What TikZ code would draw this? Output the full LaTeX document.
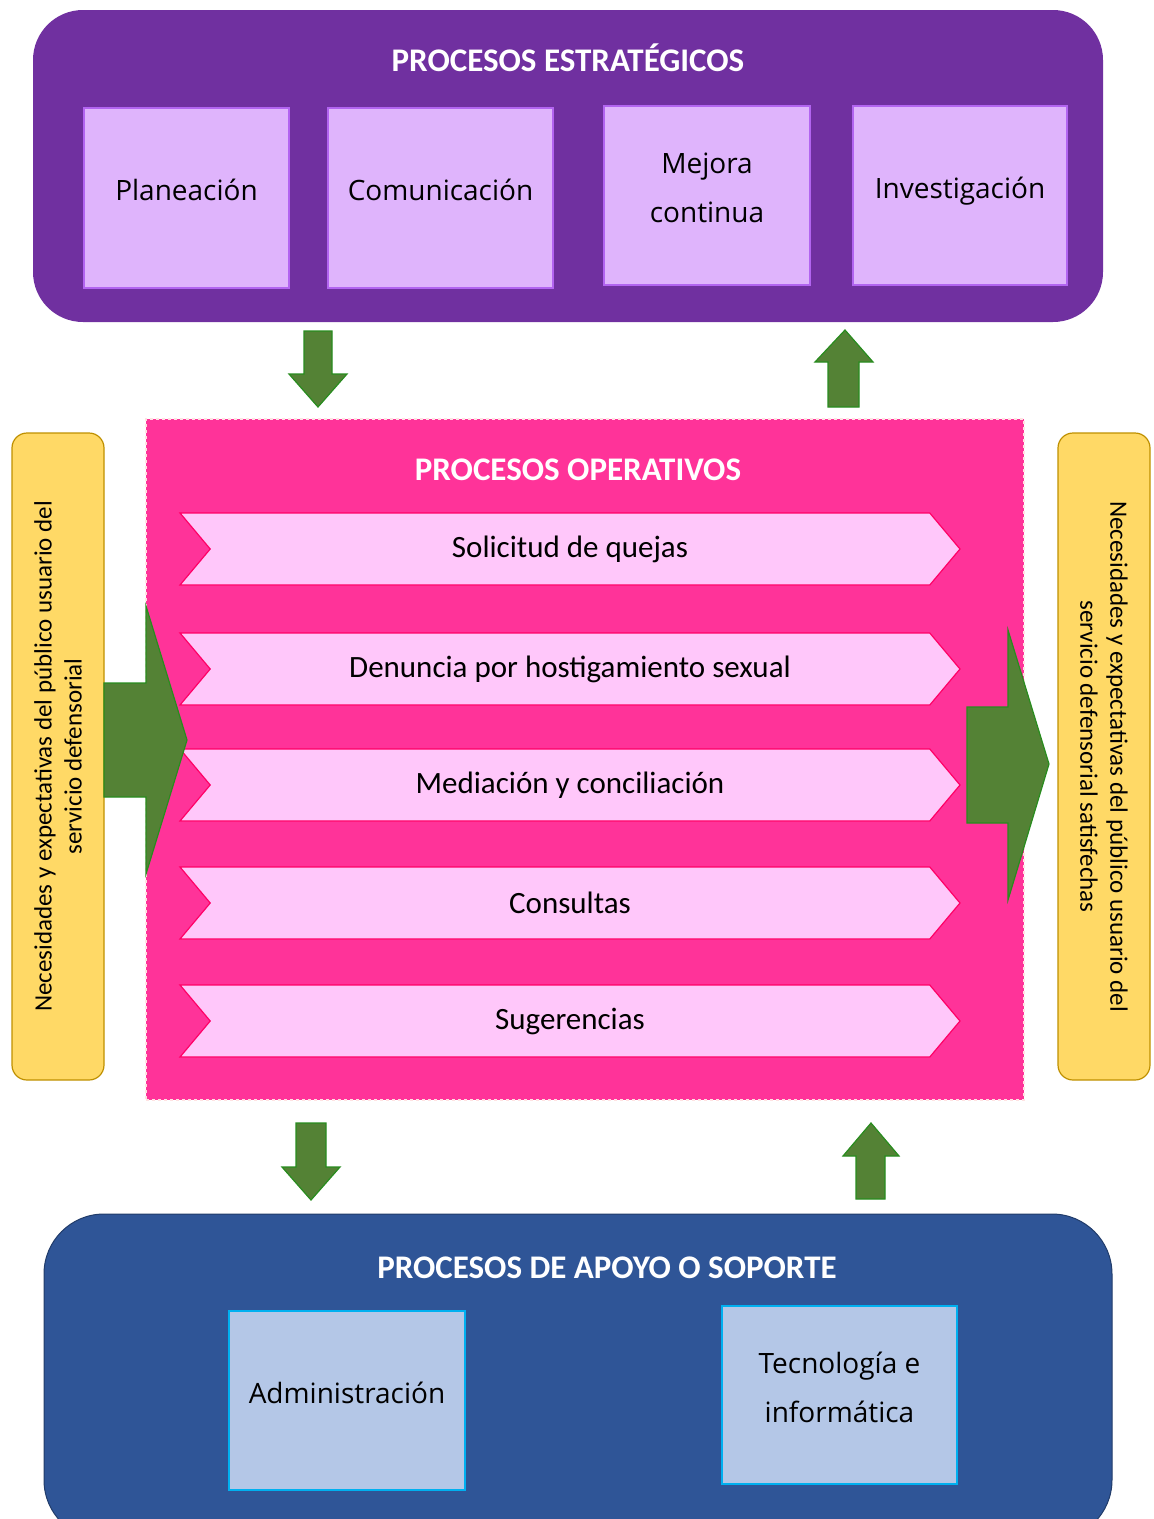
\documentclass[tikz,border=0pt]{standalone}
\usepackage{fontspec}
\setmainfont{Carlito}
\newfontfamily\boxfont{Open Sans}
\usetikzlibrary{shapes.symbols}

\definecolor{estrpurple}{RGB}{112,48,160}
\definecolor{estrbox}{RGB}{223,180,252}
\definecolor{estrline}{RGB}{178,100,240}
\definecolor{operpink}{RGB}{255,51,153}
\definecolor{chevfill}{RGB}{255,199,250}
\definecolor{chevline}{RGB}{255,0,102}
\definecolor{needyellow}{RGB}{255,217,102}
\definecolor{needline}{RGB}{191,144,0}
\definecolor{arrowgreen}{RGB}{84,130,53}
\definecolor{arrowline}{RGB}{40,140,30}
\definecolor{apoyoblue}{RGB}{47,85,151}
\definecolor{apoyobox}{RGB}{180,199,231}
\definecolor{apoyoline}{RGB}{0,176,240}

\tikzset{
  block/.style={rectangle, inner sep=0pt},
  title/.style={text=white, font=\fontsize{33}{40}\selectfont\bfseries},
  subbox/.style={rectangle, inner sep=0pt, align=center, text depth=16pt,
    font=\boxfont\fontsize{28}{49}\selectfont},
  chevron/.style={signal, signal from=west, signal to=east, signal pointer angle=100,
    draw=chevline, fill=chevfill, line width=1.2pt, inner sep=0pt,
    minimum width=780pt, minimum height=72pt, font=\fontsize{31}{36}\selectfont},
  needs/.style={rectangle, rounded corners=15pt, draw=needline, fill=needyellow,
    line width=1.2pt, minimum width=92pt, minimum height=647pt},
  needtext/.style={align=center, font=\fontsize{25}{30}\selectfont},
  greenarrow/.style={draw=arrowline, fill=arrowgreen, line width=1.2pt, line join=miter}
}

\begin{document}
\begin{tikzpicture}[x=1pt,y=-1pt]
  \clip (0,0) rectangle (1154,1519);

  % procesos estrategicos
  \node[block, fill=estrpurple, rounded corners=50pt, minimum width=1070pt,
    minimum height=312pt] (estr) at (568,166) {};
  \node[title] (estrtit) at (568,58) {PROCESOS ESTRATÉGICOS};
  \node[subbox, draw=estrline, fill=estrbox, line width=1.5pt,
    minimum width=205pt, minimum height=180pt] (plan) at (186.5,198) {Planeación};
  \node[subbox, draw=estrline, fill=estrbox, line width=1.5pt,
    minimum width=225pt, minimum height=180pt] (comu) at (440.5,198) {Comunicación};
  \node[subbox, draw=estrline, fill=estrbox, line width=1.5pt,
    minimum width=206pt, minimum height=179pt] (mejo) at (707,195.5) {Mejora\\continua};
  \node[subbox, draw=estrline, fill=estrbox, line width=1.5pt,
    minimum width=214pt, minimum height=179pt] (inve) at (960,195.5) {Investigación};

  % procesos operativos
  \node[block, fill=operpink, draw=pink!45, dashed, line width=1.5pt,
    minimum width=878pt, minimum height=681pt] (oper) at (585,759.5) {};
  \node[title] (opertit) at (578,470) {PROCESOS OPERATIVOS};
  \node[chevron] (quej) at (570,549) {Solicitud de quejas};
  \node[chevron] (denu) at (570,669) {Denuncia por hostigamiento sexual};
  \node[chevron] (medi) at (570,785) {Mediación y conciliación};
  \node[chevron] (cons) at (570,903) {Consultas};
  \node[chevron] (suge) at (570,1021) {Sugerencias};

  % necesidades
  \node[needs] (entra) at (58,756.5) {};
  \node[needtext, rotate=90] (entratxt) at (entra)
    {Necesidades y expectativas del público usuario del\\servicio defensorial};
  \node[needs] (sale) at (1104,756.5) {};
  \node[needtext, rotate=-90] (saletxt) at (sale)
    {Necesidades y expectativas del público usuario del\\servicio defensorial satisfechas};

  % flechas
  \draw[greenarrow] (104,683) -- (146,683) -- (146,606) -- (187,740) -- (146,874)
    -- (146,797) -- (104,797) -- cycle;
  \draw[greenarrow] (967,707) -- (1008,707) -- (1008,630) -- (1049,764) -- (1008,900)
    -- (1008,823) -- (967,823) -- cycle;
  \draw[greenarrow] (304,331) -- (332,331) -- (332,374) -- (347,374) -- (318,407)
    -- (289,374) -- (304,374) -- cycle;
  \draw[greenarrow] (845,330) -- (873,362) -- (859,362) -- (859,407) -- (828,407)
    -- (828,362) -- (815,362) -- cycle;
  \draw[greenarrow] (296,1123) -- (326,1123) -- (326,1167) -- (340,1167) -- (311,1200)
    -- (282,1167) -- (296,1167) -- cycle;
  \draw[greenarrow] (871,1123) -- (899,1156) -- (885,1156) -- (885,1199) -- (856,1199)
    -- (856,1156) -- (843,1156) -- cycle;

  % procesos de apoyo
  \node[block, fill=apoyoblue, draw=apoyoblue!70!black, line width=1pt,
    rounded corners=60pt, minimum width=1068pt, minimum height=326pt] (apoyo) at (578,1377) {};
  \node[title] (apoyotit) at (607,1268) {PROCESOS DE APOYO O SOPORTE};
  \node[subbox, draw=apoyoline, fill=apoyobox, line width=2pt,
    minimum width=236pt, minimum height=179pt] (admi) at (347,1400.5) {Administración};
  \node[subbox, draw=apoyoline, fill=apoyobox, line width=2pt,
    minimum width=235pt, minimum height=178pt] (tecn) at (839.5,1395) {Tecnología e\\informática};
\end{tikzpicture}
\end{document}
